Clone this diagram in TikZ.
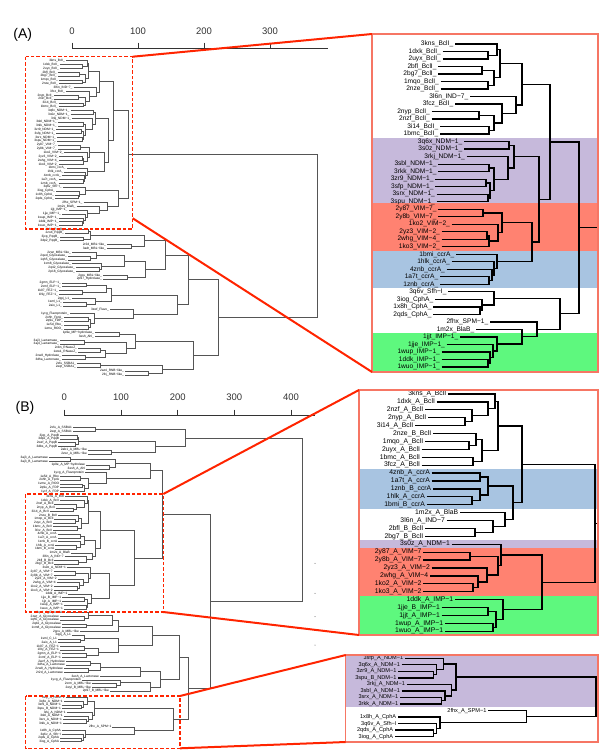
\documentclass[tikz,border=0pt]{standalone}
\usepackage{fontspec}
\setmainfont{Liberation Sans}
\usetikzlibrary{calc}
\definecolor{LinkRed}{RGB}{255,36,0}
\definecolor{PanelRed}{RGB}{246,118,100}
\definecolor{NdmPurple}{RGB}{198,185,219}
\definecolor{VimRed}{RGB}{255,130,113}
\definecolor{CcrBlue}{RGB}{168,196,225}
\definecolor{ImpGreen}{RGB}{94,248,126}
\definecolor{TreeGray}{RGB}{85,85,85}

\tikzset{
  br/.style={line width=1.3pt,black},
  lbl/.style={anchor=east,inner sep=0pt,xshift=-1.6pt},
  ovbr/.style={line width=0.55pt,TreeGray},
  ovlbl/.style={anchor=east,inner sep=0pt,xshift=-0.8pt,font=\fontsize{3.2}{3.5}\selectfont},
  axis/.style={line width=0.8pt,black!80},
  panel/.style={line width=1.2pt,PanelRed},
  dashbox/.style={line width=1.1pt,LinkRed,dash pattern=on 3.5pt off 2pt},
  link/.style={line width=2pt,LinkRed},
}

% rows, leaves and joins of a dendrogram
\newcommand\setrows[2]{\def\rowbase{#1}\def\rowstep{#2}}
\newcommand\leafat[4]{\coordinate (#1) at (#2,{\rowbase+(#3-1)*\rowstep});
  \node[lbl] (#1t) at (#1) {#4};}
\newcommand\joinat[4]{\coordinate (mid) at ($(#3)!0.5!(#4)$);
  \coordinate (#1) at (#2,0 |- mid);
  \draw[br] (#3) -| (#1) (#4) -| (#1);}

\newcommand\treeA{%
  \setrows{44}{7.51}
  \leafat{a01}{455}{1}{3kns\_BclI\_}
  \leafat{a02}{442.7}{2}{1dxk\_BclI\_}
  \leafat{a03}{442.7}{3}{2uyx\_BclI\_}
  \leafat{a04}{438.3}{4}{2bfl\_BclI\_}
  \leafat{a05}{438.3}{5}{2bg7\_BclI\_}
  \leafat{a06}{440.7}{6}{1mqo\_BclI\_}
  \leafat{a07}{440.7}{7}{2nze\_BclI\_}
  \leafat{a08}{470}{8}{3l6n\_IND−7\_}
  \leafat{a09}{455}{9}{3fcz\_BclI\_}
  \leafat{a10}{431.7}{10}{2nyp\_BclI\_}
  \leafat{a11}{431.7}{11}{2nzf\_BclI\_}
  \leafat{a12}{440}{12}{3i14\_BclI\_}
  \leafat{a13}{440}{13}{1bmc\_BclI\_}
  \leafat{a14}{464}{14}{3q6x\_NDM−1\_}
  \leafat{a15}{464}{15}{3s0z\_NDM−1\_}
  \leafat{a16}{466.7}{16}{3rkj\_NDM−1\_}
  \leafat{a17}{438.3}{17}{3sbl\_NDM−1\_}
  \leafat{a18}{438.3}{18}{3rkk\_NDM−1\_}
  \leafat{a19}{435.3}{19}{3zr9\_NDM−1\_}
  \leafat{a20}{435.3}{20}{3sfp\_NDM−1\_}
  \leafat{a21}{436.7}{21}{3srx\_NDM−1\_}
  \leafat{a22}{436.7}{22}{3spu\_NDM−1\_}
  \leafat{a23}{438.3}{23}{2y87\_VIM−7\_}
  \leafat{a24}{438.3}{24}{2y8b\_VIM−7\_}
  \leafat{a25}{451.7}{25}{1ko2\_VIM−2\_}
  \leafat{a26}{441.7}{26}{2yz3\_VIM−2\_}
  \leafat{a27}{441.7}{27}{2whg\_VIM−4\_}
  \leafat{a28}{441.7}{28}{1ko3\_VIM−2\_}
  \leafat{a29}{456}{29}{1bmi\_ccrA\_}
  \leafat{a30}{451.7}{30}{1hlk\_ccrA\_}
  \leafat{a31}{446.7}{31}{4znb\_ccrA\_}
  \leafat{a32}{440}{32}{1a7t\_ccrA\_}
  \leafat{a33}{440}{33}{1znb\_ccrA\_}
  \leafat{a34}{448.3}{34}{3q6v\_Sfh−I\_}
  \leafat{a35}{435}{35}{3iog\_CphA\_}
  \leafat{a36}{433.3}{36}{1x8h\_CphA\_}
  \leafat{a37}{433.3}{37}{2qds\_CphA\_}
  \leafat{a38}{490}{38}{2fhx\_SPM−1\_}
  \leafat{a39}{476}{39}{1m2x\_BlaB\_}
  \leafat{a40}{460}{40}{1jjt\_IMP−1\_}
  \leafat{a41}{446.7}{41}{1jje\_IMP−1\_}
  \leafat{a42}{441.7}{42}{1wup\_IMP−1\_}
  \leafat{a43}{441.7}{43}{1ddk\_IMP−1\_}
  \leafat{a44}{441.7}{44}{1wuo\_IMP−1\_}
  % BclI
  \joinat{an1}{488}{a02}{a03}
  \joinat{an2}{497}{a01}{an1}
  \joinat{an3}{482}{a04}{a05}
  \joinat{an4}{488}{a06}{a07}
  \joinat{an5}{494}{an3}{an4}
  \joinat{an6}{500}{an2}{an5}
  \joinat{an8}{479}{a10}{a11}
  \joinat{an9}{489}{a12}{a13}
  \joinat{an10}{494}{an8}{an9}
  \joinat{an11}{502}{a09}{an10}
  \joinat{an12}{516}{a08}{an11}
  \joinat{an13}{522}{an6}{an12}
  % NDM-1
  \joinat{aa1}{509}{a14}{a15}
  \joinat{aa2}{489}{a17}{a18}
  \joinat{aa3}{486}{a19}{a20}
  \joinat{aa4}{488}{a21}{a22}
  \joinat{aa5}{490}{aa3}{aa4}
  \joinat{aa6}{494}{aa2}{aa5}
  \joinat{aa7}{508}{a16}{aa6}
  \joinat{aa8}{514}{aa1}{aa7}
  % VIM and ccrA
  \joinat{av1}{483}{a23}{a24}
  \joinat{av2}{487}{a26}{a27}
  \joinat{av3}{489}{av2}{a28}
  \joinat{av4}{498}{a25}{av3}
  \joinat{av5}{502}{av1}{av4}
  \joinat{ac1}{489}{a32}{a33}
  \joinat{ac2}{492}{a31}{ac1}
  \joinat{ac3}{494}{a30}{ac2}
  \joinat{ac4}{497}{a29}{ac3}
  \joinat{avc}{532}{av5}{ac4}
  \joinat{ag1}{539}{aa8}{avc}
  \joinat{ag2}{550}{an13}{ag1}
  % Sfh, CphA, SPM, BlaB, IMP
  \joinat{as1}{480}{a36}{a37}
  \joinat{as2}{482}{a35}{as1}
  \joinat{as3}{494}{a34}{as2}
  \joinat{ai1}{488}{a43}{a44}
  \joinat{ai2}{490}{a42}{ai1}
  \joinat{ai3}{493}{a41}{ai2}
  \joinat{ai4}{497}{a40}{ai3}
  \joinat{ab1}{522}{a39}{ai4}
  \joinat{ab2}{537}{a38}{ab1}
  \joinat{ab3}{560}{as3}{ab2}
  \joinat{aroot}{579}{ag2}{ab3}
}

\newcommand\treeB{%
  \setrows{394}{7.91}
  \leafat{b01}{448}{1}{3kns\_A\_BclI}
  \leafat{b02}{436.7}{2}{1dxk\_A\_BclI}
  \leafat{b03}{425}{3}{2nzf\_A\_BclI}
  \leafat{b04}{428}{4}{2nyp\_A\_BclI}
  \leafat{b05}{415}{5}{3i14\_A\_BclI}
  \leafat{b06}{433}{6}{2nze\_B\_BclI}
  \leafat{b07}{425}{7}{1mqo\_A\_BclI}
  \leafat{b08}{421.7}{8}{2uyx\_A\_BclI}
  \leafat{b09}{421.7}{9}{1bmc\_A\_BclI}
  \leafat{b10}{421.7}{10}{3fcz\_A\_BclI}
  \leafat{b11}{431.7}{11}{4znb\_A\_ccrA}
  \leafat{b12}{431.7}{12}{1a7t\_A\_ccrA}
  \leafat{b13}{433}{13}{1znb\_B\_ccrA}
  \leafat{b14}{426.7}{14}{1hlk\_A\_ccrA}
  \leafat{b15}{426.7}{15}{1bmi\_B\_ccrA}
  \leafat{b16}{460}{16}{1m2x\_A\_BlaB}
  \leafat{b17}{446.7}{17}{3l6n\_A\_IND−7}
  \leafat{b18}{425}{18}{2bfl\_B\_BclI}
  \leafat{b19}{425}{19}{2bg7\_B\_BclI}
  \leafat{b20}{451.7}{20}{3s0z\_A\_NDM−1}
  \leafat{b21}{423.3}{21}{2y87\_A\_VIM−7}
  \leafat{b22}{423.3}{22}{2y8b\_A\_VIM−7}
  \leafat{b23}{431.7}{23}{2yz3\_A\_VIM−2}
  \leafat{b24}{430}{24}{2whg\_A\_VIM−4}
  \leafat{b25}{423.3}{25}{1ko2\_A\_VIM−2}
  \leafat{b26}{423.3}{26}{1ko3\_A\_VIM−2}
  \leafat{b27}{455}{27}{1ddk\_A\_IMP−1}
  \leafat{b28}{441.7}{28}{1jje\_B\_IMP−1}
  \leafat{b29}{441.7}{29}{1jjt\_A\_IMP−1}
  \leafat{b30}{445}{30}{1wup\_A\_IMP−1}
  \leafat{b31}{445}{31}{1wuo\_A\_IMP−1}
  \joinat{bba}{465}{b04}{b05}
  \joinat{bbb}{472}{b03}{bba}
  \joinat{bbc}{488}{b02}{bbb}
  \joinat{bbd}{495}{b01}{bbc}
  \joinat{bbe}{469}{b07}{b08}
  \joinat{bbf}{476}{b06}{bbe}
  \joinat{bbg}{473}{b09}{b10}
  \joinat{bbh}{482}{bbf}{bbg}
  \joinat{bbi}{498}{bbd}{bbh}
  \joinat{bc1}{480}{b11}{b12}
  \joinat{bc2}{472}{b14}{b15}
  \joinat{bc3}{480}{b13}{bc2}
  \joinat{bc4}{488}{bc1}{bc3}
  \joinat{bx1}{475}{b18}{b19}
  \joinat{bx2}{493}{b17}{bx1}
  \joinat{bx3}{505}{b16}{bx2}
  \joinat{bx4}{513}{bc4}{bx3}
  \joinat{bx5}{522}{bbi}{bx4}
  \joinat{bv1}{470}{b21}{b22}
  \joinat{bv2}{473}{b25}{b26}
  \joinat{bv3}{478}{b24}{bv2}
  \joinat{bv4}{487}{b23}{bv3}
  \joinat{bv5}{498}{bv1}{bv4}
  \joinat{bv6}{501}{b20}{bv5}
  \joinat{bi1}{488}{b28}{b29}
  \joinat{bi2}{493}{b30}{b31}
  \joinat{bi3}{496}{bi1}{bi2}
  \joinat{bi4}{503}{b27}{bi3}
  \joinat{bvi}{542}{bv6}{bi4}
  \joinat{broot}{595}{bx5}{bvi}
}

\newcommand\treeC{%
  \setrows{658.3}{6.53}
  \leafat{c01}{405}{1}{3sfp\_A\_NDM−1}
  \leafat{c02}{401.7}{2}{3q6x\_A\_NDM−1}
  \leafat{c03}{398.3}{3}{3zr9\_A\_NDM−1}
  \leafat{c04}{398.3}{4}{3spu\_B\_NDM−1}
  \leafat{c05}{406.7}{5}{3rkj\_A\_NDM−1}
  \leafat{c06}{401.7}{6}{3sbl\_A\_NDM−1}
  \leafat{c07}{400}{7}{3srx\_A\_NDM−1}
  \leafat{c08}{400}{8}{3rkk\_A\_NDM−1}
  \leafat{c09}{488.3}{9}{2fhx\_A\_SPM−1}
  \leafat{c10}{398}{10}{1x8h\_A\_CphA}
  \leafat{c11}{398.3}{11}{3q6v\_A\_Sfh−I}
  \leafat{c12}{395}{12}{2qds\_A\_CphA}
  \leafat{c13}{395}{13}{3iog\_A\_CphA}
  \joinat{cd1}{433.3}{c03}{c04}
  \joinat{cd2}{436.7}{c02}{cd1}
  \joinat{cd3}{443.3}{c01}{cd2}
  \joinat{cd4}{441.7}{c07}{c08}
  \joinat{cd5}{445}{c06}{cd4}
  \joinat{cd6}{451.7}{c05}{cd5}
  \joinat{cd7}{456}{cd3}{cd6}
  \joinat{ce1}{433.3}{c12}{c13}
  \joinat{ce2}{436.7}{c11}{ce1}
  \joinat{ce3}{440}{c10}{ce2}
  \joinat{ce4}{526.7}{c09}{ce3}
  \joinat{croot}{596}{cd7}{ce4}
}

\begin{document}
\begin{tikzpicture}[x=1pt,y=-1pt]
\useasboundingbox (0,0) rectangle (600,754);

% zoomed panels with their colour bands
\coordinate (pA1) at (372,34);    \coordinate (pA2) at (598,372);
\coordinate (pB1) at (359,390);   \coordinate (pB2) at (598,635);
\coordinate (pC1) at (345.7,655); \coordinate (pC2) at (598,742);
\fill[NdmPurple] (372,137.7) rectangle (598,203);
\fill[VimRed] (372,203) rectangle (598,250.5);
\fill[CcrBlue] (372,250.5) rectangle (598,288);
\fill[ImpGreen] (372,333) rectangle (598,372);
\fill[CcrBlue] (359,469.2) rectangle (598,508.7);
\fill[NdmPurple] (359,540.3) rectangle (598,548.3);
\fill[VimRed] (359,548.3) rectangle (598,596);
\fill[ImpGreen] (359,596) rectangle (598,635);
\fill[NdmPurple] (345.7,655) rectangle (598,707.3);

\begin{scope}[lbl/.append style={font=\fontsize{6.6}{7}\selectfont}]
  \treeA
  \draw[br] (aroot) -- (598,0 |- aroot);
\end{scope}
\begin{scope}[lbl/.append style={font=\fontsize{6.8}{7}\selectfont}]
  \treeB
  \draw[br] (broot) -- (598,0 |- broot);
\end{scope}
\begin{scope}[lbl/.append style={font=\fontsize{5.6}{6}\selectfont}]
  \treeC
  \draw[br] (croot) -- (598,0 |- croot);
\end{scope}
\draw[panel] (pA1) rectangle (pA2);
\draw[panel] (pB1) rectangle (pB2);
\draw[panel] (pC1) rectangle (pC2);

% (A) overview
\node[font=\fontsize{14}{16}\selectfont] (labA) at (22.7,35) {(A)};
\draw[axis] (72,48.3) -- (328,48.3);
\foreach \t/\v in {72/0,138/100,204/200,270/300}
  \draw[axis] (\t,42.7) -- (\t,48.3)
    node[pos=0,above=7.5pt,inner sep=0pt,font=\fontsize{9.5}{10}\selectfont] (tA\v) {\v};
\begin{scope}[shift={(-161.5,38.3)},xscale=0.5,yscale=0.51,br/.style={ovbr},lbl/.style={ovlbl}]
  \treeA
\end{scope}
\begin{scope}[br/.style={ovbr},lbl/.style={ovlbl}]
  \setrows{60.74}{3.83}
  \leafat{o45}{65}{45}{2bhh\_PqqB\_}
  \leafat{o46}{65}{46}{2zo4\_PqqB\_}
  \leafat{o47}{60}{47}{3jxp\_PqqB\_}
  \leafat{o48}{60}{48}{3dp2\_PqqB\_}
  \leafat{o49}{107}{49}{2r2d\_MBL−like\_}
  \leafat{o50}{107}{50}{3adr\_MBL−like\_}
  \leafat{o51}{72}{51}{2zwr\_MBL−like\_}
  \leafat{o52}{68}{52}{2qed\_Glyoxalase\_}
  \leafat{o53}{68}{53}{1qh5\_Glyoxalase\_}
  \leafat{o54}{72}{54}{1xm8\_Glyoxalase\_}
  \leafat{o55}{76}{55}{2q42\_Glyoxalase\_}
  \leafat{o56}{76}{56}{2p18\_Glyoxalase\_}
  \leafat{o57}{103}{57}{2gcu\_MBL−like\_}
  \leafat{o58}{103}{58}{2p97\_Hydrolase\_}
  \leafat{o59}{62}{59}{2gmn\_ELP−1\_}
  \leafat{o60}{62}{60}{2xmf\_ELP−1\_}
  \leafat{o61}{59}{61}{1k07\_FEZ−1\_}
  \leafat{o62}{59}{62}{1l9y\_FEZ−1\_}
  \leafat{o63}{72}{63}{2qpj\_L1\_}
  \leafat{o64}{63}{64}{1sml\_L1\_}
  \leafat{o65}{63}{65}{2aio\_L1\_}
  \leafat{o66}{110}{66}{3zwf\_Flavo\_}
  \leafat{o67}{70}{67}{1ycg\_Flavoprotein\_}
  \leafat{o68}{64}{68}{2ohh\_FprA\_}
  \leafat{o69}{64}{69}{2q9u\_FDP\_}
  \leafat{o70}{64}{70}{1e5d\_Rbo\_}
  \leafat{o71}{64}{71}{1vme\_ROO\_}
  \leafat{o72}{95}{72}{1p9e\_MP−hydrolase\_}
  \leafat{o73}{95}{73}{3esh\_Ahl\_}
  \leafat{o74}{60}{74}{3aj3\_Lactamase\_}
  \leafat{o75}{60}{75}{3aj4\_Lactamase\_}
  \leafat{o76}{78}{76}{2cbn\_RNaseZ\_}
  \leafat{o77}{78}{77}{1ww1\_RNaseZ\_}
  \leafat{o78}{62}{78}{2vw8\_Hydrolase\_}
  \leafat{o79}{62}{79}{3dha\_Lactonase\_}
  \leafat{o80}{77}{80}{2xfu\_SSBA1\_}
  \leafat{o81}{77}{81}{2eqt\_SSBA1\_}
  \leafat{o82}{125}{82}{2az4\_RNB−like\_}
  \leafat{o83}{125}{83}{2fcj\_RNB−like\_}
  \joinat{oL1}{88}{o45}{o46}
  \joinat{oL2}{83}{o47}{o48}
  \joinat{oL3}{90}{oL1}{oL2}
  \joinat{oL4}{131.7}{o49}{o50}
  \joinat{oL5}{144}{oL3}{oL4}
  \joinat{oG1}{90}{o52}{o53}
  \joinat{oG2}{96}{o51}{oG1}
  \joinat{oG3}{99}{o55}{o56}
  \joinat{oG4}{101}{o54}{oG3}
  \joinat{oG5}{124}{oG2}{oG4}
  \joinat{oG6}{127.7}{o57}{o58}
  \joinat{oG7}{145}{oG5}{oG6}
  \joinat{oPG}{165.7}{oL5}{oG7}
  \joinat{oE1}{86}{o59}{o60}
  \joinat{oE2}{82.7}{o61}{o62}
  \joinat{oE3}{106.7}{oE1}{oE2}
  \joinat{oE4}{86}{o64}{o65}
  \joinat{oE5}{95}{o63}{oE4}
  \joinat{oE6}{111.7}{oE3}{oE5}
  \joinat{oF1}{88}{o68}{o69}
  \joinat{oF2}{88}{o70}{o71}
  \joinat{oF3}{90}{oF1}{oF2}
  \joinat{oF4}{94}{o67}{oF3}
  \joinat{oF5}{133}{o66}{oF4}
  \joinat{oEF}{177}{oE6}{oF5}
  \joinat{oPGEF}{188}{oPG}{oEF}
  \joinat{oH1}{119}{o72}{o73}
  \joinat{oH2}{84}{o74}{o75}
  \joinat{oH3}{100}{o76}{o77}
  \joinat{oH4}{85}{o78}{o79}
  \joinat{oH5}{105.7}{oH3}{oH4}
  \joinat{oH6}{126}{oH2}{oH5}
  \joinat{oH7}{135}{oH1}{oH6}
  \joinat{oH8}{100}{o80}{o81}
  \joinat{oH9}{148}{o82}{o83}
  \joinat{oH10}{162}{oH8}{oH9}
  \joinat{oH11}{193}{oH7}{oH10}
  \joinat{oLow}{218}{oPGEF}{oH11}
  \joinat{oroot}{317}{aroot}{oLow}
\end{scope}

% (B) overview
\node[font=\fontsize{14}{16}\selectfont] (labB) at (25,408) {(B)};
\draw[axis] (64.3,415) -- (315,415);
\foreach \t/\v in {64.3/0,121/100,177.7/200,234.3/300,291/400}
  \draw[axis] (\t,409.5) -- (\t,415)
    node[pos=0,above=9pt,inner sep=0pt,font=\fontsize{9.5}{10}\selectfont] (tB\v) {\v};
\begin{scope}[shift={(-145.35,310.3)},xscale=0.47,yscale=0.473,br/.style={ovbr},lbl/.style={ovlbl}]
  \treeB
\end{scope}
\begin{scope}[shift={(-161.6,328.4)},xscale=0.561,yscale=0.561,br/.style={ovbr},lbl/.style={ovlbl}]
  \treeC
\end{scope}
\begin{scope}[br/.style={ovbr},lbl/.style={ovlbl}]
  \setrows{427.7}{3.74}
  \leafat{t01}{73}{1}{2xfu\_A\_SSBA1}
  \leafat{t02}{73}{2}{2eqt\_A\_SSBA1}
  \leafat{t03}{60}{3}{3jxp\_A\_PqqB}
  \leafat{t04}{60}{4}{3dp2\_A\_PqqB}
  \leafat{t05}{58}{5}{2wzf\_A\_PqqB}
  \leafat{t06}{58}{6}{3dbs\_A\_PqqB}
  \leafat{t07}{88}{7}{2ab1\_A\_MBL−like}
  \leafat{t08}{88}{8}{2zwr\_A\_MBL−like}
  \leafat{t09}{49}{9}{3aj3\_A\_Lactamase}
  \leafat{t10}{49}{10}{3aj3\_B\_Lactamase}
  \leafat{t11}{86}{11}{1p9e\_A\_MP−hydrolase}
  \leafat{t12}{86}{12}{3esh\_A\_Ahl}
  \leafat{t13}{85}{13}{1ycg\_A\_Flavoprotein}
  \leafat{t14}{60}{14}{1e5d\_A\_Rbo}
  \leafat{t15}{60}{15}{2ohh\_A\_FprA}
  \leafat{t16}{60}{16}{1vme\_A\_ROO}
  \leafat{t17}{60}{17}{2q9u\_A\_FDP}
  \leafat{t18}{60}{18}{1ycf\_A\_FDP}
  \joinat{tp1}{95.7}{t01}{t02}
  \joinat{tp2}{77}{t03}{t04}
  \joinat{tp3}{75}{t05}{t06}
  \joinat{tp4}{78.5}{tp2}{tp3}
  \joinat{tp5}{111.7}{t07}{t08}
  \joinat{tp6}{155.7}{tp4}{tp5}
  \joinat{tp7}{185.7}{tp1}{tp6}
  \joinat{tq1}{70}{t09}{t10}
  \joinat{tq2}{109}{t11}{t12}
  \joinat{tq3}{115}{tq1}{tq2}
  \joinat{tq4}{80}{t14}{t15}
  \joinat{tq5}{82}{t16}{t17}
  \joinat{tq6}{84}{tq5}{t18}
  \joinat{tq7}{88}{tq4}{tq6}
  \joinat{tq8}{106}{t13}{tq7}
  \joinat{tq9}{150}{tq3}{tq8}
  \joinat{trB}{162}{tq9}{broot}
  \setrows{612.6}{3.74}
  \leafat{m01}{66}{1}{2qed\_A\_Glyoxalase}
  \leafat{m02}{60}{2}{2zwr\_A\_Glyoxalase}
  \leafat{m03}{60}{3}{1qh5\_A\_Glyoxalase}
  \leafat{m04}{62}{4}{2q42\_A\_Glyoxalase}
  \leafat{m05}{62}{5}{1xm8\_A\_Glyoxalase}
  \leafat{m06}{80}{6}{2gcu\_A\_MBL−like}
  \leafat{m07}{72}{7}{2qpj\_A\_L1}
  \leafat{m08}{58}{8}{1sml\_C\_L1}
  \leafat{m09}{58}{9}{2aio\_A\_L1}
  \leafat{m10}{60}{10}{1k07\_A\_FEZ−1}
  \leafat{m11}{60}{11}{1l9y\_A\_FEZ−1}
  \leafat{m12}{62}{12}{2gmn\_A\_ELP−1}
  \leafat{m13}{62}{13}{2xmf\_A\_ELP−1}
  \leafat{m14}{66}{14}{2wzf\_A\_Hydrolase}
  \leafat{m15}{66}{15}{3dha\_A\_Lactonase}
  \leafat{m16}{64}{16}{2vw8\_A\_Hydrolase}
  \leafat{m17}{64}{17}{2r2d\_A\_Lactonase}
  \leafat{m18}{100}{18}{3esh\_A\_Lactonase}
  \leafat{m19}{82}{19}{1ycg\_A\_Flavoprotein}
  \leafat{m20}{92}{20}{2xrm\_A\_MBL−like}
  \leafat{m21}{92}{21}{2wyl\_B\_MBL−like}
  \leafat{m22}{110}{22}{2p97\_B\_MBL−like}
  \joinat{mM1}{84}{m02}{m03}
  \joinat{mM2}{88}{m01}{mM1}
  \joinat{mM3}{86}{m04}{m05}
  \joinat{mM4}{112}{mM2}{mM3}
  \joinat{mM4b}{118}{mM4}{m06}
  \joinat{mM5}{80}{m08}{m09}
  \joinat{mM6}{84}{m07}{mM5}
  \joinat{mM7}{84}{m10}{m11}
  \joinat{mM8}{86}{m12}{m13}
  \joinat{mM9}{98}{mM7}{mM8}
  \joinat{mM10}{118}{mM6}{mM9}
  \joinat{mM11}{152}{mM4b}{mM10}
  \joinat{mM12}{90}{m14}{m15}
  \joinat{mM13}{88}{m16}{m17}
  \joinat{mM14}{100}{mM12}{mM13}
  \joinat{mM15}{140}{mM14}{m18}
  \joinat{mM16}{116}{m20}{m21}
  \joinat{mM17}{120}{m19}{mM16}
  \joinat{mM18}{150}{mM17}{m22}
  \joinat{mM19}{160}{mM15}{mM18}
  \joinat{mM20}{179}{mM11}{mM19}
  \joinat{mLB}{188.3}{mM20}{croot}
  \joinat{mRB}{210}{trB}{mLB}
  \joinat{rootB}{302.3}{tp7}{mRB}
\end{scope}
\foreach \d in {563.3,593.3,616.7,630,645}
  \fill[TreeGray] (315,\d) circle (0.5);

% dashed boxes and links to the zoomed panels
\coordinate (dA1) at (25.7,56.7);  \coordinate (dA2) at (132.7,229);
\coordinate (dAc) at (132.7,218.3);
\coordinate (dB1) at (25.7,494);   \coordinate (dB2) at (163.3,612);
\coordinate (dC1) at (25.7,696);   \coordinate (dC2) at (180,748.3);
\draw[dashbox] (dA1) rectangle (dA2);
\draw[dashbox] (dB1) rectangle (dB2);
\draw[dashbox] (dC1) rectangle (dC2);
\draw[link] (dA1 -| dA2) -- (pA1);
\draw[link] (dAc) -- (pA1 |- pA2);
\draw[link] (dB1 -| dB2) -- (pB1);
\draw[link] (dB2) -- (pB1 |- pB2);
\draw[link] (dC1 -| dC2) -- (pC1);
\draw[link] (dC2) -- (pC1 |- pC2);
\end{tikzpicture}
\end{document}
